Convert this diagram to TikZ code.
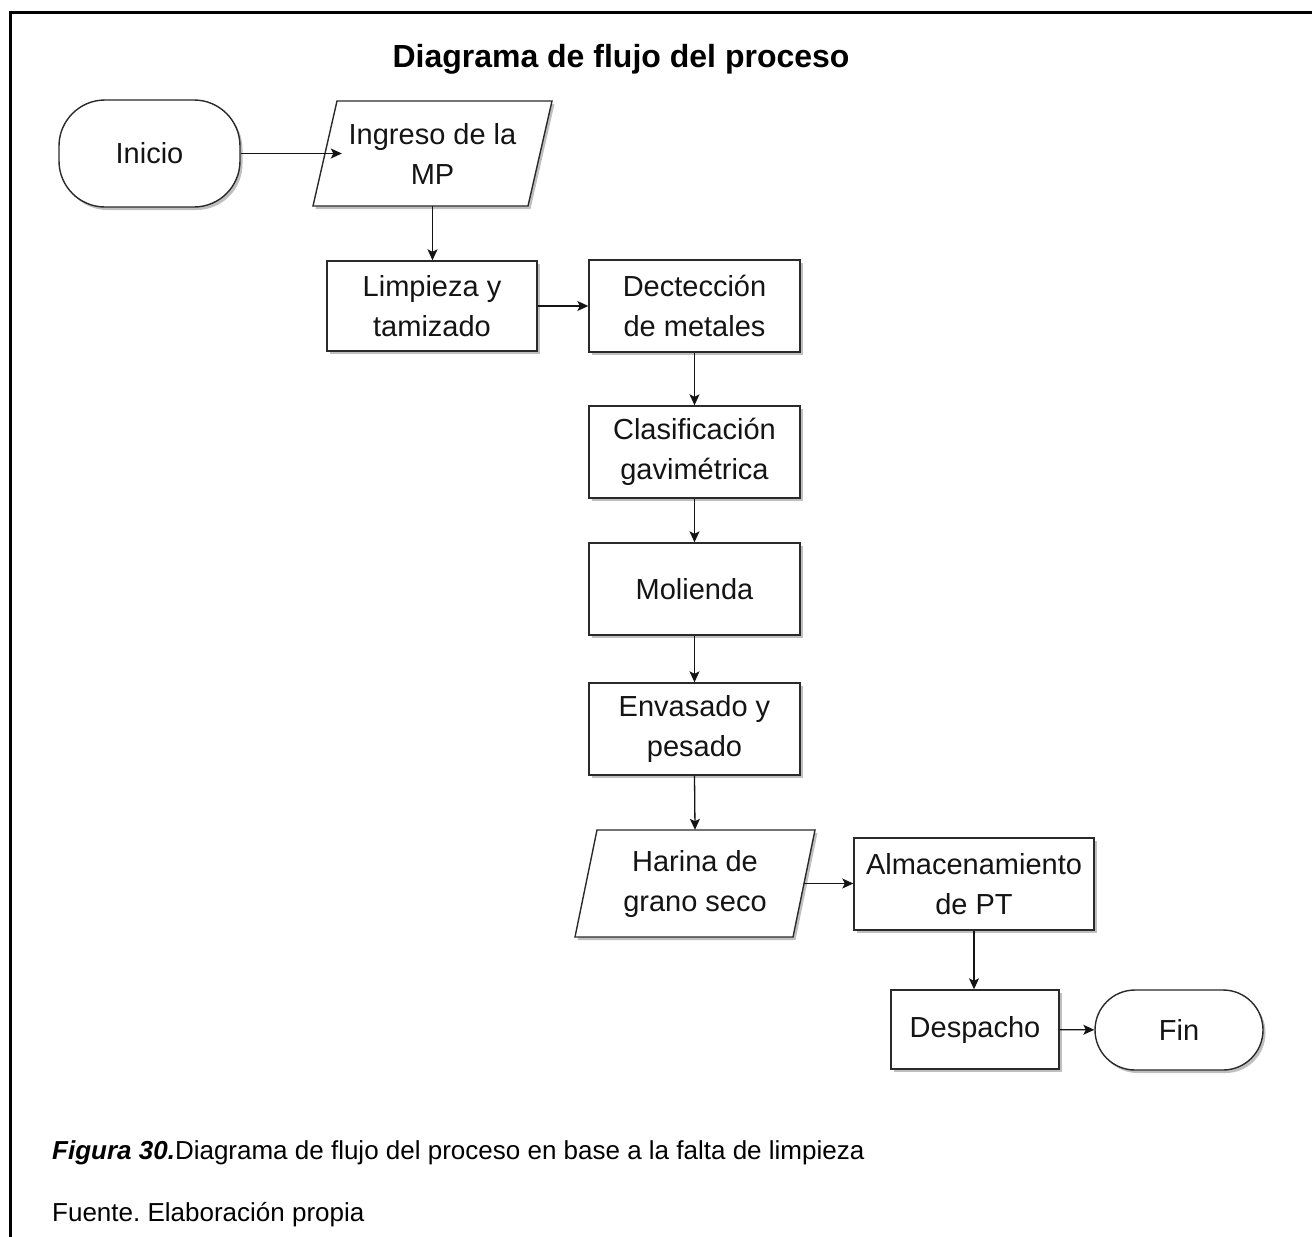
\documentclass[tikz,border=0pt]{standalone}
\usepackage{fontspec}
\setmainfont{Liberation Sans}
\usetikzlibrary{arrows.meta,shadows,calc}
\definecolor{edge}{HTML}{2A2A2A}
\definecolor{ink}{HTML}{141414}
\frenchspacing
\tikzset{
  softshadow/.style={drop shadow={shadow xshift=2.5pt, shadow yshift=-3pt, fill=black, opacity=0.25}},
  flowtext/.style={font=\fontsize{29}{40}\selectfont, text=ink, align=center, inner sep=0pt},
  procbox/.style={flowtext, rectangle, draw=edge, line width=1.4pt, fill=white, softshadow},
  termbox/.style={procbox},
  databox/.style={draw=edge, line width=1.4pt, fill=white, line join=miter, softshadow},
  conn/.style={draw=ink, line width=1.3pt, -{Stealth[length=11pt,width=10pt,inset=2.5pt]}},
}
\begin{document}
\begin{tikzpicture}[x=1pt,y=-1pt]
\useasboundingbox (0,0) rectangle (1312,1237);

% frame on the left and top
\draw[line width=3pt, line join=miter, draw=black] (10,1240) -- (10,12.5) -- (1315,12.5);

% title
\node[font=\fontsize{32}{38}\selectfont\bfseries, anchor=base] (title) at (621,67) {Diagrama de flujo del proceso};

% terminators and process steps
\node[termbox, minimum width=181pt, minimum height=107pt, rounded corners=46pt] (inicio) at (149.5,153.5) {Inicio};

\coordinate (ingc) at (432.5,153.5);
\draw[databox] ($(ingc)+(-107.5+12,-52.5)$) -- ($(ingc)+(107.5+12,-52.5)$)
  -- ($(ingc)+(107.5-12,52.5)$) -- ($(ingc)+(-107.5-12,52.5)$) -- cycle;
\node[flowtext, minimum width=215pt, minimum height=105pt] (ingreso) at (ingc) {Ingreso de la\\MP};

\node[procbox, minimum width=210pt, minimum height=90pt] (limpieza) at (432,306) {Limpieza y\\tamizado};
\node[procbox, minimum width=211pt, minimum height=92pt] (deteccion) at (694.5,306) {Dectección\\de metales};
\node[procbox, minimum width=211pt, minimum height=92pt] (clasif) at (694.5,452) {Clasificación\\gavimétrica};
\node[procbox, minimum width=211pt, minimum height=92pt] (molienda) at (694.5,589) {Molienda};
\node[procbox, minimum width=211pt, minimum height=92pt] (envasado) at (694.5,729) {Envasado y\\pesado};

\coordinate (harc) at (695,883.5);
\draw[databox] ($(harc)+(-109+11,-53.5)$) -- ($(harc)+(109+11,-53.5)$)
  -- ($(harc)+(109-11,53.5)$) -- ($(harc)+(-109-11,53.5)$) -- cycle;
\node[flowtext, minimum width=218pt, minimum height=107pt] (harina) at (harc) {Harina de\\grano seco};

\node[procbox, minimum width=240pt, minimum height=92pt] (almac) at (974,884) {Almacenamiento\\de PT};
\node[procbox, minimum width=168pt, minimum height=79pt] (despacho) at (975,1029.5) {Despacho};
\node[termbox, minimum width=168pt, minimum height=80pt, rounded corners=40pt] (fin) at (1179,1030) {Fin};

% connectors
\draw[conn] (inicio) -- ([xshift=17pt]ingreso.west);
\draw[conn] (ingreso.south) -- (ingreso.south |- limpieza.north);
\draw[conn] (limpieza) -- (deteccion);
\draw[conn] (deteccion) -- (clasif);
\draw[conn] (clasif) -- (molienda);
\draw[conn] (molienda) -- (envasado);
\draw[conn] (envasado.south) -- (harina.north);
\draw[conn] (harina.east) -- (almac.west |- harina.east);
\draw[conn] (almac.south) -- (almac.south |- despacho.north);
\draw[conn] (despacho) -- (fin);

% caption
\node[font=\fontsize{26}{30}\selectfont, anchor=base west, inner sep=0pt] (caption) at (52,1159)
  {\textbf{\textit{Figura 30.}}Diagrama de flujo del proceso en base a la falta de limpieza};
\node[font=\fontsize{26}{30}\selectfont, anchor=base west, inner sep=0pt] (source) at (52,1221)
  {Fuente. Elaboración propia};
\end{tikzpicture}
\end{document}
